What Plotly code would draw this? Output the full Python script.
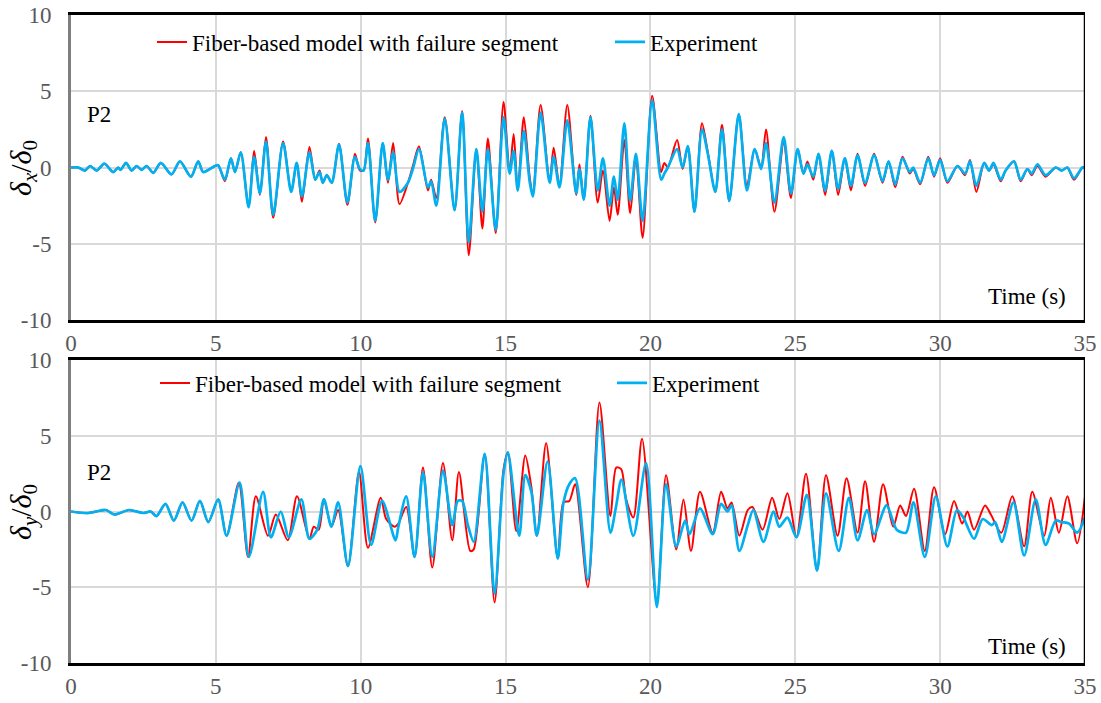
import plotly.graph_objects as go

# ---------------- DATA ----------------
x_ticks = [0, 5, 10, 15, 20, 25, 30, 35]
x_tick_text = ["0", "5", "10", "15", "20", "25", "30", "35"]
y_ticks = [-10, -5, 0, 5, 10]
y_tick_text = ["-10", "-5", "0", "5", "10"]

# delta_x / delta_0  (top panel)
t_x = [0.0, 0.25, 0.48, 0.66, 0.89, 1.15, 1.46, 1.63, 1.71, 1.9, 2.09, 2.26, 2.44, 2.61, 2.84,
       3.1, 3.47, 3.76, 4.14, 4.39, 4.56, 4.79, 4.97, 5.08,
       5.31, 5.52, 5.66, 5.86, 6.13, 6.32, 6.52, 6.73, 6.98, 7.32, 7.6, 7.79, 7.97, 8.23,
       8.43, 8.58, 8.69, 8.83, 9.0, 9.25, 9.54, 9.8, 9.97, 10.1, 10.25, 10.5, 10.76,
       10.94, 11.12, 11.34, 11.63, 11.8, 12.01, 12.32, 12.43, 12.61, 12.9, 13.24, 13.5,
       13.73, 13.99, 14.2, 14.39, 14.66, 14.93, 15.14, 15.28, 15.42, 15.63, 15.83, 15.94,
       16.21, 16.52, 16.66, 16.86, 17.13, 17.44, 17.55, 17.7, 17.93, 18.18, 18.36, 18.59,
       18.74, 18.87, 19.1, 19.3, 19.5, 19.73, 20.06, 20.37, 20.48, 20.6, 20.92, 21.11,
       21.29, 21.52, 21.78, 21.98, 22.24, 22.47, 22.72, 23.05, 23.33, 23.6, 23.82, 23.99,
       24.28, 24.6, 24.85, 25.08, 25.28, 25.42, 25.62, 25.8, 26.03, 26.26, 26.48, 26.71,
       26.92, 27.15, 27.41, 27.72, 28.01, 28.22, 28.45, 28.7, 28.95, 29.07, 29.31, 29.59,
       29.79, 30.0, 30.25, 30.6, 30.86, 31.03, 31.25, 31.52, 31.69, 31.84, 32.09, 32.26,
       32.55, 32.78, 33.01, 33.16, 33.36, 33.64, 33.99, 34.2, 34.39, 34.62, 34.91, 35.0]
dx_model = [0.0, 0.0, -0.2, 0.1, -0.2, 0.25, -0.3, 0.0, -0.15, 0.3, -0.2, 0.1, -0.15, 0.1, -0.35,
            0.3, -0.45, 0.4, -0.6, 0.4, -0.3, -0.1, 0.1, 0.15,
            -0.9, 0.6, -0.3, 1.0, -2.6, 1.1, -1.8, 2.0, -3.3, 1.7, -1.6, 0.3, -2.25, 1.35,
            -0.8, -0.2, -1.0, -0.5, -1.0, 1.55, -2.45, 0.9, -0.2, -0.2, 1.9, -3.6, 1.6,
            -1.0, 1.6, -2.4, -1.0, 0.1, 1.4, -1.5, -0.8, -2.0, 3.3, -2.8, 3.7,
            -5.75, 1.2, -4.0, 1.9, -4.3, 4.3, -0.3, 2.2, -1.5, 3.3, -0.6, -1.8,
            4.1, -0.9, 1.3, -1.2, 4.1, -1.8, 0.2, -2.1, 3.4, -2.3, -0.2, -3.5,
            -1.3, -3.1, 1.8, -3.0, 0.7, -4.6, 4.7, -0.3, 0.3, 0.0, 1.8, -0.1,
            1.4, -2.9, 2.9, 1.0, -1.6, 2.8, -2.2, 3.5, -1.2, 1.2, 0.0, 2.5,
            -2.9, 1.6, -2.0, 1.2, -0.4, 0.4, -0.8, 0.9, -1.8, 1.1, -1.8, 0.6,
            -1.5, 0.9, -1.2, 0.9, -1.0, 0.4, -1.3, 0.7, -0.4, -0.1, -1.1, 0.7,
            -0.6, 0.6, -1.0, 0.1, -0.5, 0.5, -1.6, 0.3, -0.2, 0.2, -0.9, -0.2,
            0.4, -0.9, -0.1, -0.5, 0.1, -0.6, 0.0, -0.2, 0.0, -0.8, 0.0, 0.0]
dx_exp = [0.0, 0.0, -0.2, 0.1, -0.2, 0.25, -0.3, 0.0, -0.15, 0.3, -0.2, 0.1, -0.15, 0.1, -0.35,
          0.3, -0.45, 0.4, -0.6, 0.4, -0.3, -0.1, 0.1, 0.15,
          -0.8, 0.6, -0.3, 1.0, -2.6, 0.7, -1.7, 1.7, -3.1, 1.6, -1.6, 0.3, -1.9, 1.0,
          -0.8, -0.3, -1.0, -0.5, -1.0, 1.5, -2.3, 0.7, -0.1, -0.2, 1.6, -3.5, 1.6,
          -0.8, 1.0, -1.6, -1.0, -0.1, 1.2, -1.3, -0.9, -2.5, 3.2, -2.8, 3.6,
          -4.9, 1.2, -2.9, 1.2, -4.1, 3.3, -0.4, 1.1, -1.5, 2.4, -0.9, -1.9,
          3.6, -1.0, 0.7, -1.3, 3.1, -1.7, -0.1, -2.1, 3.3, -1.5, 0.6, -2.5,
          -0.6, -2.1, 2.9, -2.2, 0.9, -3.5, 4.4, -0.8, -0.4, 0.0, 1.2, 0.0,
          1.4, -2.9, 2.5, 0.9, -1.6, 2.5, -2.2, 3.5, -1.5, 1.2, -0.1, 1.6,
          -2.3, 2.0, -1.7, 1.2, -0.4, 0.2, -0.6, 0.9, -1.5, 1.1, -1.4, 0.6,
          -1.2, 0.8, -1.0, 0.8, -0.9, 0.4, -1.1, 0.6, -0.3, 0.0, -1.0, 0.6,
          -0.5, 0.5, -0.9, 0.1, -0.4, 0.4, -1.2, 0.3, -0.2, 0.3, -0.8, -0.2,
          0.4, -0.8, -0.1, -0.4, 0.2, -0.5, 0.0, -0.2, 0.0, -0.7, 0.0, 0.0]

# delta_y / delta_0  (bottom panel) - model
t_y_model = [0.0, 0.6, 1.2, 1.5, 2.0, 2.5, 2.75, 2.95, 3.26, 3.55, 3.85, 4.16, 4.45, 4.74, 5.08,
             5.37, 5.79, 6.11, 6.38, 6.8, 7.07, 7.48, 7.8, 8.23, 8.38, 8.55, 8.73, 8.99, 9.22,
             9.56, 9.94, 10.25, 10.69, 10.88, 11.17, 11.3, 11.57, 11.86, 12.15, 12.47, 12.84,
             13.16, 13.39, 13.78, 13.9, 14.28, 14.62, 14.93, 15.08, 15.37, 15.68, 15.89, 16.08,
             16.4, 16.8, 17.0, 17.2, 17.4, 17.84, 18.24, 18.62, 18.82, 18.99, 19.16, 19.41,
             19.71, 20.22, 20.54, 20.89, 21.14, 21.4, 21.71, 22.15, 22.44, 22.66, 22.8, 23.07,
             23.36, 23.52, 23.87, 24.2, 24.45, 24.73, 25.04, 25.37, 25.75, 26.06, 26.46, 26.77,
             27.15, 27.41, 27.72, 28.03, 28.38, 28.62, 28.82, 29.1, 29.47, 29.79, 30.17, 30.48,
             30.76, 30.94, 31.17, 31.55, 31.75, 32.11, 32.49, 32.9, 33.18, 33.59, 33.82, 34.1,
             34.39, 34.73, 35.0]
dy_model = [0.0, -0.1, 0.1, -0.2, 0.1, -0.1, 0.0, -0.3, 0.5, -0.6, 0.6, -0.6, 0.7, -0.7, 0.8,
            -1.6, 1.9, -3.0, 1.0, -1.6, -0.2, -1.9, 1.0, -1.8, -1.0, -1.2, 0.8, -1.0, 0.1,
            -3.6, 2.6, -2.4, 0.9, -0.5, -1.0, -0.8, 0.3, -3.0, 2.9, -3.7, 3.2,
            -1.9, 2.6, -2.6, -2.5, 3.8, -6.0, 2.8, 3.9, -1.3, 3.7, 1.6, -1.6,
            4.5, -3.1, 0.6, 0.7, 1.8, -5.0, 7.2, -0.3, 2.9, 2.8, 0.8, -0.4,
            4.8, -6.0, 2.4, -2.5, 0.8, -2.6, 1.3, -1.4, 1.3, 0.2, 0.6, -1.6,
            0.1, 0.3, -1.2, 0.9, -0.5, 1.2, -1.7, 2.5, -3.9, 2.4, -1.6, 2.2,
            -1.4, 2.0, -2.0, 1.8, -1.0, 0.4, -0.3, 1.5, -2.6, 1.6, -1.5, 0.7,
            -0.8, 0.0, -1.2, 0.4, -0.2, -1.4, 1.0, -2.3, 1.3, -1.6, 0.9, -1.4,
            1.0, -2.1, 1.0]

# delta_y / delta_0  (bottom panel) - experiment
t_y_exp = [0.0, 0.6, 1.2, 1.5, 2.0, 2.5, 2.75, 2.95, 3.26, 3.55, 3.85, 4.16, 4.45, 4.74, 5.08,
           5.37, 5.82, 6.14, 6.63, 6.9, 7.24, 7.52, 7.95, 8.23, 8.5, 8.73, 8.99, 9.22,
           9.56, 9.99, 10.36, 10.74, 11.2, 11.3, 11.57, 11.86, 12.15, 12.47, 12.84,
           13.16, 13.35, 13.5, 13.7, 13.9, 14.28, 14.62, 14.93, 15.08, 15.47, 15.68, 15.89,
           16.08, 16.45, 16.8, 17.0, 17.2, 17.4, 17.84, 18.24, 18.62, 18.82, 19.0, 19.41,
           19.85, 20.22, 20.54, 20.89, 21.2, 21.35, 21.71, 22.15, 22.44, 22.66, 22.8, 23.07,
           23.36, 23.55, 23.9, 24.25, 24.45, 24.73, 25.04, 25.4, 25.75, 26.06, 26.5, 26.85,
           27.15, 27.48, 27.72, 28.15, 28.5, 28.82, 29.08, 29.47, 29.85, 30.25, 30.58, 30.8,
           31.17, 31.47, 31.78, 31.9, 32.13, 32.53, 32.9, 33.3, 33.64, 33.99, 34.2, 34.45,
           34.73, 35.0]
dy_exp = [0.0, -0.1, 0.1, -0.2, 0.1, -0.1, 0.0, -0.3, 0.5, -0.6, 0.6, -0.6, 0.7, -0.7, 0.8,
          -1.6, 1.9, -3.0, 1.3, -1.7, 0.0, -1.7, 0.8, -1.8, -1.2, 0.8, -1.0, 0.6,
          -3.6, 3.0, -2.2, 0.7, -1.9, -1.0, 1.0, -3.0, 2.6, -3.0, 2.7,
          -0.9, 0.7, 0.7, -0.9, -2.0, 3.8, -5.4, 2.5, 3.9, -1.6, 2.4, 1.3,
          -1.6, 3.3, -3.1, 0.6, 1.8, 2.2, -4.5, 6.0, -1.4, 0.4, 2.1, -1.6,
          3.2, -6.3, 1.8, -2.3, -0.6, -1.5, 0.2, -1.5, 0.5, 0.0, 0.4, -2.6,
          -0.9, 0.1, -2.0, 0.0, -1.0, -0.4, -1.7, 1.1, -3.9, 1.2, -2.6, 0.9,
          -1.9, 0.1, -1.5, 0.4, -1.2, -1.4, 0.6, -3.0, 1.0, -2.3, 0.1, -0.4,
          -1.8, -0.5, -0.9, -0.7, -2.0, 0.6, -2.9, 0.8, -2.2, -0.6, -0.7, -0.8,
          -1.4, -0.4]

# ---------------- STYLE ----------------
FONT = "Liberation Serif"
RED = "#ff0000"
BLUE = "#00b0f0"
GRID = "#d9d9d9"
TICKC = "#595959"
FS = 23

fig = go.Figure()

fig.add_trace(go.Scatter(x=t_x, y=dx_model, mode="lines", name="Fiber-based model with failure segment",
                         line=dict(color=RED, width=2, shape="spline", smoothing=0.8),
                         xaxis="x", yaxis="y", legend="legend"))
fig.add_trace(go.Scatter(x=t_x, y=dx_exp, mode="lines", name="Experiment",
                         line=dict(color=BLUE, width=2.7, shape="spline", smoothing=0.8),
                         xaxis="x", yaxis="y", legend="legend"))
fig.add_trace(go.Scatter(x=t_y_model, y=dy_model, mode="lines", name="Fiber-based model with failure segment",
                         line=dict(color=RED, width=2, shape="spline", smoothing=0.8),
                         xaxis="x2", yaxis="y2", legend="legend2"))
fig.add_trace(go.Scatter(x=t_y_exp, y=dy_exp, mode="lines", name="Experiment",
                         line=dict(color=BLUE, width=2.7, shape="spline", smoothing=0.8),
                         xaxis="x2", yaxis="y2", legend="legend2"))

W, H = 1101, 703
xdom = [71 / W, 1085 / W]
ydom_top = [1 - 320 / H, 1 - 15 / H]
ydom_bot = [1 - 663 / H, 1 - 360 / H]


def xax(anchor):
    return dict(domain=xdom, anchor=anchor, range=[0, 35], tickmode="array",
                tickvals=x_ticks, ticktext=x_tick_text, showgrid=True, gridcolor=GRID,
                gridwidth=1.5, zeroline=False, showline=True, linecolor="black",
                linewidth=3, mirror=True, ticks="", automargin=False,
                tickfont=dict(family=FONT, size=FS, color=TICKC))


def yax(anchor, dom):
    return dict(domain=dom, anchor=anchor, range=[-10, 10], tickmode="array",
                tickvals=y_ticks, ticktext=y_tick_text, showgrid=True, gridcolor=GRID,
                gridwidth=1.5, zeroline=False, showline=True, linecolor="#7f7f7f",
                linewidth=3, ticks="", ticklabelstandoff=12, automargin=False,
                tickfont=dict(family=FONT, size=FS, color=TICKC))


fig.update_layout(
    width=W, height=H,
    margin=dict(l=0, r=0, t=0, b=0, autoexpand=False),
    paper_bgcolor="white", plot_bgcolor="white",
    font=dict(family=FONT, size=FS, color="black"),
    xaxis=xax("y"),
    yaxis=yax("x", ydom_top),
    xaxis2=xax("y2"),
    yaxis2=yax("x2", ydom_bot),
    legend=dict(x=152 / W, y=1 - 42 / H, xanchor="left", yanchor="middle",
                orientation="h", entrywidth=413, entrywidthmode="pixels",
                bgcolor="rgba(0,0,0,0)", font=dict(family=FONT, size=FS, color="black"),
                tracegroupgap=0),
    legend2=dict(x=155 / W, y=1 - 383 / H, xanchor="left", yanchor="middle",
                 orientation="h", entrywidth=412, entrywidthmode="pixels",
                 bgcolor="rgba(0,0,0,0)", font=dict(family=FONT, size=FS, color="black"),
                 tracegroupgap=0),
    showlegend=True,
)

# right borders (black)
for xr, yr in [("x", "y domain"), ("x2", "y2 domain")]:
    fig.add_shape(type="line", xref=xr, yref=yr, x0=35, x1=35, y0=0, y1=1,
                  line=dict(color="black", width=2.5), layer="above")

panels = [(115, 297, 168, "<i>δ<sub>x</sub></i>/<i>δ</i><sub>0</sub>"),
          (472, 646, 512, "<i>δ<sub>y</sub></i>/<i>δ</i><sub>0</sub>")]
for yc_p2, yc_time, yc_title, title in panels:
    fig.add_annotation(text="P2", xref="paper", yref="paper", x=85 / W, y=1 - yc_p2 / H,
                       xanchor="left", yanchor="middle", showarrow=False,
                       font=dict(family=FONT, size=FS, color="black"))
    fig.add_annotation(text="Time (s)", xref="paper", yref="paper", x=1068 / W, y=1 - yc_time / H,
                       xanchor="right", yanchor="middle", showarrow=False,
                       font=dict(family=FONT, size=FS, color="black"))
    fig.add_annotation(text=title, xref="paper", yref="paper", x=23 / W, y=1 - yc_title / H,
                       xanchor="center", yanchor="middle", showarrow=False, textangle=-90,
                       font=dict(family=FONT, size=30, color="black"))

fig.write_html("out.html")
